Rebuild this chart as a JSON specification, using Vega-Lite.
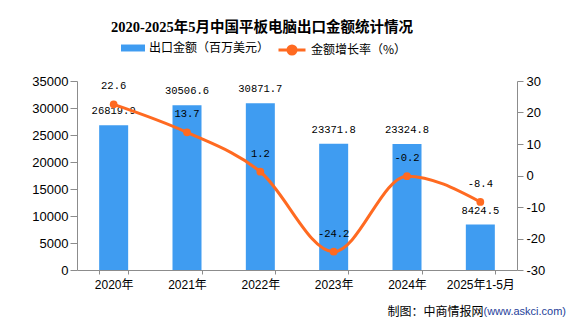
{
  "$schema": "https://vega.github.io/schema/vega-lite/v6.json",
  "width": 440,
  "height": 189,
  "autosize": {"type": "none"},
  "padding": {"left": 77, "top": 81, "right": 59, "bottom": 54},
  "background": "white",
  "title": {
    "text": "2020-2025年5月中国平板电脑出口金额统计情况",
    "font": "Liberation Serif, Noto Sans CJK SC",
    "fontSize": 14.5,
    "fontWeight": "bold",
    "color": "#000000",
    "anchor": "middle",
    "frame": "group",
    "dx": -35,
    "dy": 4
  },
  "config": {
    "locale": {"number": {"decimal": ".", "thousands": ",", "grouping": [3], "currency": ["$", ""], "minus": "-"}},
    "view": {"stroke": null},
    "axis": {"grid": false, "labelOverlap": false, "labelFont": "Liberation Sans, Noto Sans CJK SC", "labelColor": "#000000", "domainColor": "#8c8c8c", "tickColor": "#8c8c8c"}
  },
  "data": {
    "values": [
      {"year": "2020年", "amount": 26819.9, "growth": 22.6},
      {"year": "2021年", "amount": 30506.6, "growth": 13.7},
      {"year": "2022年", "amount": 30871.7, "growth": 1.2},
      {"year": "2023年", "amount": 23371.8, "growth": -24.2},
      {"year": "2024年", "amount": 23324.8, "growth": -0.2},
      {"year": "2025年1-5月", "amount": 8424.5, "growth": -8.4}
    ]
  },
  "encoding": {
    "x": {
      "field": "year",
      "type": "nominal",
      "sort": null,
      "scale": {"paddingInner": 0.6, "paddingOuter": 0.3},
      "axis": {
        "labelAngle": 0,
        "labelFontSize": 12,
        "tickBand": "extent",
        "tickSize": 4,
        "labelPadding": 5,
        "title": "制图：中商情报网",
        "titleFont": "Noto Sans CJK SC",
        "titleFontSize": 12,
        "titleFontWeight": "normal",
        "titleColor": "#000000",
        "titleAlign": "right",
        "titleAnchor": null,
        "titleBaseline": "middle",
        "titleX": 406,
        "titleY": 41
      }
    }
  },
  "layer": [
    {
      "encoding": {
        "y": {
          "field": "amount",
          "type": "quantitative",
          "scale": {"domain": [0, 35000], "nice": false},
          "axis": {
            "values": [0, 5000, 10000, 15000, 20000, 25000, 30000, 35000],
            "format": "d",
            "labelOverlap": false,
            "labelFontSize": 13,
            "tickSize": 7,
            "labelPadding": 2,
            "title": "(www.askci.com)",
            "titleAngle": 0,
            "titleFont": "Liberation Sans",
            "titleFontSize": 11,
            "titleFontWeight": "normal",
            "titleColor": "#1f3f9a",
            "titleAlign": "left",
            "titleAnchor": null,
            "titleBaseline": "middle",
            "titleX": 406,
            "titleY": 230
          }
        }
      },
      "layer": [
        {
          "mark": {"type": "bar", "width": 29},
          "encoding": {
            "color": {
              "datum": "出口金额（百万美元）",
              "type": "nominal",
              "scale": {"range": ["#3f9cf1"]},
              "legend": {
                "orient": "none",
                "legendX": 44,
                "legendY": -45,
                "title": null,
                "padding": 0,
                "symbolType": "M-1,-0.29H1V0.29H-1Z",
                "symbolSize": 576,
                "symbolStrokeWidth": 0,
                "labelFont": "Noto Sans CJK SC",
                "labelFontSize": 12,
                "labelColor": "#000000",
                "labelOffset": 4
              }
            }
          }
        },
        {
          "mark": {"type": "text", "dy": -14, "font": "Liberation Mono", "fontSize": 10.5, "color": "#000000"},
          "encoding": {
            "text": {"field": "amount", "type": "quantitative", "format": ".1f"}
          }
        }
      ]
    },
    {
      "encoding": {
        "y": {
          "field": "growth",
          "type": "quantitative",
          "scale": {"domain": [-30, 30], "nice": false},
          "axis": {
            "orient": "right",
            "values": [-30, -20, -10, 0, 10, 20, 30],
            "labelOverlap": false,
            "labelFontSize": 13,
            "tickSize": 6,
            "labelPadding": 3,
            "title": null
          }
        }
      },
      "layer": [
        {
          "mark": {"type": "line", "interpolate": "monotone", "strokeWidth": 3, "point": {"filled": true, "size": 60}},
          "encoding": {
            "color": {
              "datum": "金额增长率（%）",
              "type": "nominal",
              "scale": {"range": ["#ff6a21"]},
              "legend": {
                "orient": "none",
                "legendX": 200,
                "legendY": -46,
                "title": null,
                "padding": 0,
                "symbolType": "M-1,0H1M-0.3,0A0.3,0.3 0 1,1 0.3,0A0.3,0.3 0 1,1 -0.3,0Z",
                "symbolSize": 729,
                "symbolStrokeWidth": 3,
                "symbolFillColor": "#ff6a21",
                "symbolStrokeColor": "#ff6a21",
                "labelFont": "Noto Sans CJK SC",
                "labelFontSize": 12,
                "labelColor": "#000000",
                "labelOffset": 4
              }
            }
          }
        },
        {
          "mark": {"type": "text", "dy": -18, "font": "Liberation Mono", "fontSize": 10.5, "color": "#000000"},
          "encoding": {
            "text": {"field": "growth", "type": "quantitative", "format": ".1f"}
          }
        }
      ]
    }
  ],
  "resolve": {"scale": {"y": "independent", "color": "independent"}}
}
